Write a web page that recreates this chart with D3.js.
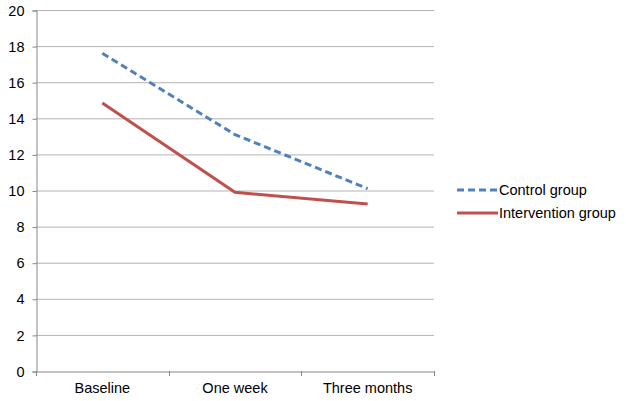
<!DOCTYPE html>
<html>
<head>
<meta charset="utf-8">
<script src="https://cdn.jsdelivr.net/npm/d3@7"></script>
<style>
  body { margin: 0; background: #fff; }
  text { font-family: "Liberation Sans", Arial, sans-serif; font-size: 14.5px; fill: #000; }
</style>
</head>
<body>
<script>
var categories = ["Baseline", "One week", "Three months"];
var controlValues = [17.6, 13.1, 10.1];
var interventionValues = [14.85, 9.9, 9.25];
var yTicks = [0, 2, 4, 6, 8, 10, 12, 14, 16, 18, 20];

var series = [
  {name: "Control group", values: controlValues, color: "#4f81bd", dash: "7,4"},
  {name: "Intervention group", values: interventionValues, color: "#c0504d", dash: null}
];

var width = 626, height = 401;
var plot = {left: 36, right: 434, top: 10, bottom: 371};

var svg = d3.select("body").append("svg")
    .attr("width", width)
    .attr("height", height);

var x = d3.scaleBand()
    .domain(categories)
    .range([plot.left, plot.right]);

var y = d3.scaleLinear()
    .domain([0, 20])
    .range([plot.bottom, plot.top]);

// gridlines
svg.append("g").selectAll("line")
    .data(yTicks.filter(function(d) { return d > 0; }))
  .enter().append("line")
    .attr("x1", plot.left).attr("x2", plot.right)
    .attr("y1", function(d) { return y(d) + 0.5; })
    .attr("y2", function(d) { return y(d) + 0.5; })
    .attr("stroke", "#b3b3b3");

// y axis
var yAxis = svg.append("g")
    .attr("transform", "translate(" + (plot.left + 0.5) + ",0.5)")
    .call(d3.axisLeft(y).tickValues(yTicks).tickSize(4).tickPadding(8));
yAxis.select(".domain").attr("stroke", "#868686");
yAxis.selectAll(".tick line").attr("stroke", "#868686");
yAxis.selectAll("text").style("font-size", "14.5px").attr("fill", "#000");

// x axis
var xAxis = svg.append("g")
    .attr("transform", "translate(0," + (plot.bottom + 0.5) + ")")
    .call(d3.axisBottom(x).tickSize(0).tickPadding(11));
xAxis.select(".domain").attr("stroke", "#868686");
xAxis.selectAll("text").style("font-size", "14.5px").attr("fill", "#000");

// x tick marks at band edges
svg.append("g").selectAll("line")
    .data(categories.concat([null]))
  .enter().append("line")
    .attr("x1", function(d, i) { return Math.round(plot.left + i * x.step()) + 0.5; })
    .attr("x2", function(d, i) { return Math.round(plot.left + i * x.step()) + 0.5; })
    .attr("y1", plot.bottom)
    .attr("y2", plot.bottom + 5)
    .attr("stroke", "#868686");

var line = d3.line()
    .x(function(d, i) { return x(categories[i]) + x.bandwidth() / 2; })
    .y(function(d) { return y(d); });

svg.append("g").selectAll("path")
    .data(series)
  .enter().append("path")
    .attr("d", function(s) { return line(s.values); })
    .attr("fill", "none")
    .attr("stroke", function(s) { return s.color; })
    .attr("stroke-width", 3)
    .attr("stroke-dasharray", function(s) { return s.dash; });

// legend
var legend = svg.append("g").selectAll("g")
    .data(series)
  .enter().append("g")
    .attr("transform", function(d, i) { return "translate(457," + (190 + i * 23) + ")"; });

legend.append("line")
    .attr("x1", 0).attr("x2", 41)
    .attr("stroke", function(s) { return s.color; })
    .attr("stroke-width", 3)
    .attr("stroke-dasharray", function(s) { return s.dash; });

legend.append("text")
    .attr("x", 42)
    .attr("dy", "0.35em")
    .text(function(s) { return s.name; });
</script>
</body>
</html>
